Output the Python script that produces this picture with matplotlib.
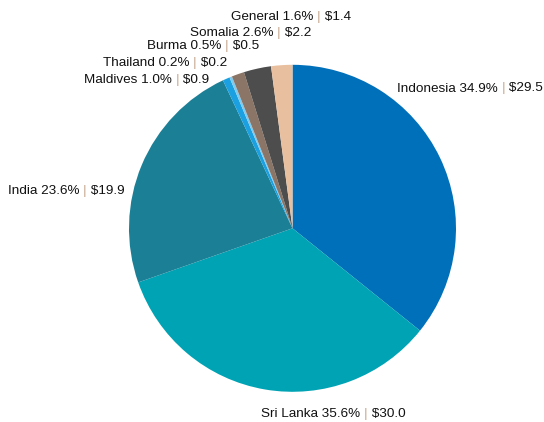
import matplotlib
matplotlib.use("Agg")
import matplotlib.pyplot as plt

countries = ["Indonesia", "Sri Lanka", "India", "Maldives", "Thailand", "Burma", "Somalia", "General"]
# labelled values
percents = [34.9, 35.6, 23.6, 1.0, 0.2, 0.5, 2.6, 1.6]
amounts = [29.5, 30.0, 19.9, 0.9, 0.2, 0.5, 2.2, 1.4]
# slice sizes as drawn in the picture (share of circle, %)
slice_shares = [35.8, 33.9, 23.4, 0.7, 0.25, 1.25, 2.7, 2.1]
colors = ["#0070BA", "#00A3B4", "#1B7F96", "#1BA1E2", "#7FCBF0", "#8B7566", "#4D4D4D", "#E8C0A0"]
# label anchor (left edge x, center y) in pixel coords of the 544x422 canvas
label_px = [(397, 88.5), (261, 414), (8, 191), (84, 80), (103, 63), (147, 46), (190, 33), (231, 17)]

W, H = 544, 422
CX, CY, R = 292.5, 228.3, 163.5

plt.rcParams['font.family'] = ['Liberation Sans', 'DejaVu Sans']
fig = plt.figure(figsize=(W / 100, H / 100), dpi=100)
ax = fig.add_axes([0, 0, 1, 1])

ax.pie(slice_shares, colors=colors, startangle=90, counterclock=False, radius=1, center=(0, 0),
       wedgeprops=dict(linewidth=0))
ax.set_xlim(-CX / R, (W - CX) / R)
ax.set_ylim(-(H - CY) / R, CY / R)
ax.set_aspect('equal')
ax.axis('off')

fs = 9.7
for name, pct, amt, (px, py) in zip(countries, percents, amounts, label_px):
    x = (px - CX) / R
    y = (CY - py) / R
    t1 = ax.text(x, y, f"{name} {pct:.1f}% ", fontsize=fs, color="#111111", ha='left', va='center')
    t2 = ax.annotate("|", xy=(1, 0), xycoords=t1, fontsize=fs, color="#C8A890", ha='left', va='bottom')
    ax.annotate(f" ${amt:.1f}", xy=(1, 0), xycoords=t2, fontsize=fs, color="#111111", ha='left', va='bottom')

fig.savefig("out.png", dpi=100)
